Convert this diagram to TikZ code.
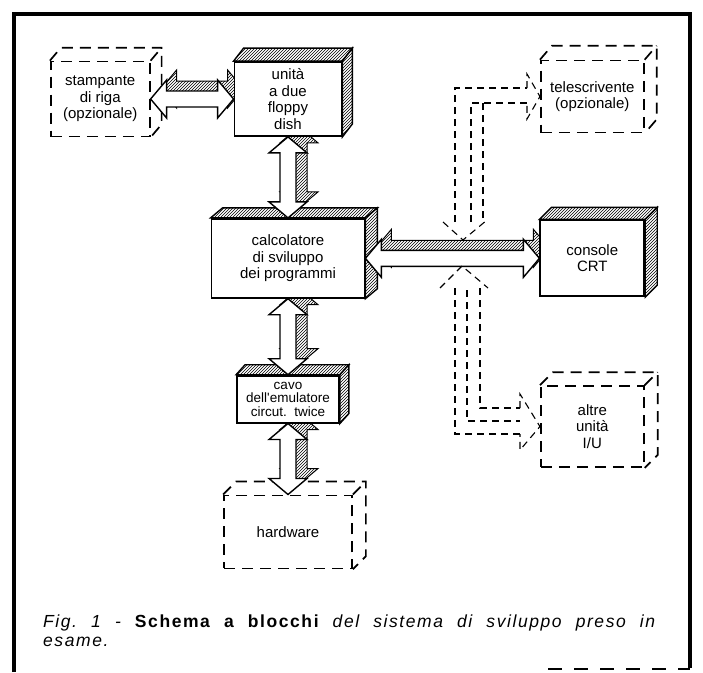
\documentclass[tikz,border=0pt]{standalone}
\usepackage{fontspec}
\usetikzlibrary{positioning,calc,patterns,backgrounds}
\newfontfamily\labelfont{Liberation Sans}
\newfontfamily\captionfont[LetterSpace=9]{Liberation Sans}
\frenchspacing

\newcommand{\vbus}[4]{%
  \path[#4] let \p1=($(#1)+#3$), \p2=($(#2)+#3$) in
    (\x1,\y1) -- (\x1+19pt,\y1-16pt) -- (\x1+8pt,\y1-16pt) -- (\x1+8pt,\y2+16pt)
    -- (\x1+19pt,\y2+16pt) -- (\x1,\y2) -- (\x1-19pt,\y2+16pt) -- (\x1-8pt,\y2+16pt)
    -- (\x1-8pt,\y1-16pt) -- (\x1-19pt,\y1-16pt) -- cycle;}
\newcommand{\hbus}[4]{%
  \path[#4] let \p1=($(#1)+#3$), \p2=($(#2)+#3$) in
    (\x1,\y1) -- (\x1+16pt,\y1+19pt) -- (\x1+16pt,\y1+8pt) -- (\x2-16pt,\y1+8pt)
    -- (\x2-16pt,\y1+19pt) -- (\x2,\y1) -- (\x2-16pt,\y1-19pt) -- (\x2-16pt,\y1-8pt)
    -- (\x1+16pt,\y1-8pt) -- (\x1+16pt,\y1-19pt) -- cycle;}
\newcommand{\solidfaces}[2]{%
  \draw[face] (#1.north west) -- ($(#1.north west)+#2$) -- ($(#1.north east)+#2$) -- (#1.north east) -- cycle;
  \draw[face] (#1.north east) -- ($(#1.north east)+#2$) -- ($(#1.south east)+#2$) -- (#1.south east) -- cycle;}
\newcommand{\dashfaces}[2]{%
  \draw[optline] (#1.north west) -- ($(#1.north west)+#2$) -- ($(#1.north east)+#2$) -- ($(#1.south east)+#2$) -- (#1.south east);
  \draw[optline] (#1.north east) -- ($(#1.north east)+#2$);}

\begin{document}
\begin{tikzpicture}[
    x=1pt, y=-1pt,
    unitbox/.style={draw, line width=1.8pt, fill=white, align=center, inner sep=2pt,
      font=\labelfont\fontsize{15pt}{16.5pt}\selectfont},
    optbox/.style={unitbox, fill=none, line width=1.7pt, dash pattern=on 11pt off 7pt},
    optline/.style={line width=1.7pt, dash pattern=on 11pt off 7pt},
    face/.style={draw, line width=1.4pt, preaction={fill=white}, pattern=north east lines},
    busshade/.style={draw, line width=1pt, preaction={fill=white}, pattern=north east lines},
    busbody/.style={draw, line width=1.4pt, fill=white},
    wire/.style={line width=1.1pt, dash pattern=on 7pt off 5pt},
    captext/.style={anchor=base west, inner sep=0pt, font=\captionfont\fontsize{17.5pt}{19pt}\selectfont\itshape}
]
    \useasboundingbox (0,0) rectangle (703,672);
    \draw[line width=4pt] (14,672) -- (14,14) -- (690,14) -- (690,668);
    \draw[line width=2pt, dash pattern=on 14pt off 12pt] (548,669) -- (690,669);

    \node[unitbox, minimum width=107pt, minimum height=74pt] (floppy) at (288,99) {unità\\a due\\floppy\\dish};
    \node[optbox, minimum width=99pt, minimum height=75pt, left=83pt of floppy] (printer) {stampante\\di riga\\(opzionale)};
    \node[unitbox, minimum width=153pt, minimum height=79pt, below=81pt of floppy] (devsys) {calcolatore\\di sviluppo\\dei programmi};
    \node[unitbox, minimum width=102pt, minimum height=47pt, below=76pt of devsys, inner sep=1pt,
      font=\labelfont\fontsize{13.5pt}{13.5pt}\selectfont] (cable) {cavo\\dell'emulatore\\circut.\ \ twice};
    \node[optbox, minimum width=128pt, minimum height=73pt, below=71pt of cable] (hw) {hardware};
    \node[unitbox, minimum width=104pt, minimum height=76pt, right=174pt of devsys] (crt) {console\\CRT};
    \node[optbox, minimum width=103pt, minimum height=72pt, above=86pt of crt] (tty) {telescrivente\\(opzionale)};
    \node[optbox, minimum width=103pt, minimum height=81pt, below=88pt of crt] (otherio) {altre\\unità\\I/U};

    \begin{scope}[on background layer]
        \hbus{printer.east}{floppy.west}{(10,-10)}{busshade}
        \vbus{floppy.south}{devsys.north}{(11,-10)}{busshade}
        \vbus{devsys.south}{cable.north}{(11,-10)}{busshade}
        \vbus{cable.south}{hw.north}{(11,-10)}{busshade}
        \hbus{devsys.east}{crt.west}{(10,-10)}{busshade}
    \end{scope}

    \solidfaces{floppy}{(10,-13)}
    \solidfaces{devsys}{(12,-10)}
    \solidfaces{cable}{(9,-10)}
    \solidfaces{crt}{(12,-12)}
    \dashfaces{printer}{(11,-13)}
    \dashfaces{hw}{(13,-13)}
    \dashfaces{tty}{(12,-14)}
    \dashfaces{otherio}{(13,-13)}

    \hbus{printer.east}{floppy.west}{(0,0)}{busbody}
    \vbus{floppy.south}{devsys.north}{(0,0)}{busbody}
    \vbus{devsys.south}{cable.north}{(0,0)}{busbody}
    \vbus{cable.south}{hw.north}{(0,0)}{busbody}
    \hbus{devsys.east}{crt.west}{(0,0)}{busbody}

    \draw[wire] (443,222) -- (463,240) -- (487,220);
    \draw[wire] (455,222) |- (527,88);
    \draw[wire] (471,222) |- (527,103);
    \draw[wire] (483,218) -- (483,103);
    \draw[wire] (527,88) -- (527,74) -- (tty.west) -- (527,119) -- (527,103);

    \draw[wire] (440,288) -- (462,266) -- (488,288);
    \draw[wire] (455,288) |- (520,434);
    \draw[wire] (467,290) |- (520,421);
    \draw[wire] (480,288) |- (520,408);
    \draw[wire] (520,408) -- (520,394) -- (otherio.west) -- (520,450) -- (520,434);

    \node[captext] (caption1) at (43,627)
        {\makebox[612pt][s]{Fig. 1 - {\bfseries\upshape Schema a blocchi} del sistema di sviluppo preso in}};
    \node[captext] (caption2) at (43,646) {esame.};
\end{tikzpicture}
\end{document}
